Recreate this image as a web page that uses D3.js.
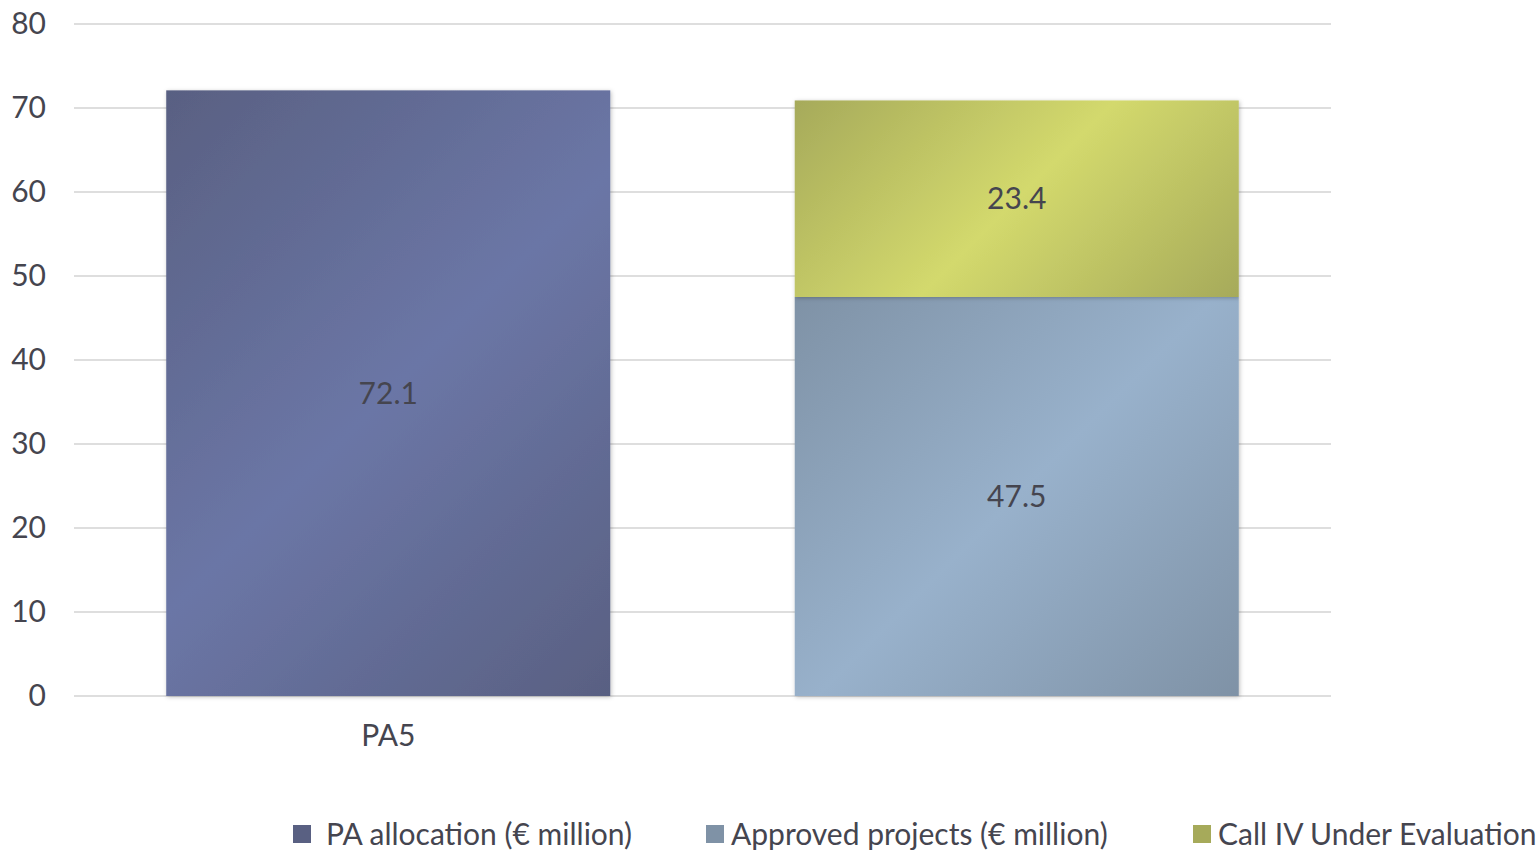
<!DOCTYPE html>
<html>
<head>
<meta charset="utf-8">
<script src="https://cdn.jsdelivr.net/npm/d3@7"></script>
<style>
  body { margin: 0; background: #fff; }
  svg text { font-family: Lato, "Open Sans", sans-serif; fill: #45454f; }
</style>
</head>
<body>
<div id="chart"></div>
<script>
// Data
const categories = ["PA5", ""];
const seriesNames = ["PA allocation (€ million)", "Approved projects (€ million)", "Call IV Under Evaluation"];
const paAllocation = [72.1, 0];
const approved = [0, 47.5];
const callIV = [0, 23.4];
const yTicks = [0, 10, 20, 30, 40, 50, 60, 70, 80];

const W = 1539, H = 851;
const margin = { top: 24, right: 208, bottom: 155, left: 74 };

const colors = [
    ["#596082", "#6b76a6"],
    ["#7f92a6", "#98b1cb"],
    ["#a6aa5a", "#d3d96d"]
];
const fmt = d3.format(".1f");

const svg = d3.select("#chart")
    .append("svg")
    .attr("width", W)
    .attr("height", H);

const defs = svg.append("defs");

// 45 degree gradient in pixel space, dark at the corners, light through the middle
function addGradient(id, c, x0, y0, w, h) {
    const cx = x0 + w / 2, cy = y0 + h / 2, d = (w + h) / 4;
    const g = defs.append("linearGradient")
        .attr("id", id)
        .attr("gradientUnits", "userSpaceOnUse")
        .attr("x1", cx - d).attr("y1", cy - d)
        .attr("x2", cx + d).attr("y2", cy + d);
    g.append("stop").attr("offset", "0%").attr("stop-color", c[0]);
    g.append("stop").attr("offset", "50%").attr("stop-color", c[1]);
    g.append("stop").attr("offset", "100%").attr("stop-color", c[0]);
    return `url(#${id})`;
}

const shadow = defs.append("filter").attr("id", "shadow")
    .attr("x", "-5%").attr("y", "-5%").attr("width", "110%").attr("height", "110%");
shadow.append("feDropShadow")
    .attr("dx", 1).attr("dy", 1).attr("stdDeviation", 2)
    .attr("flood-color", "#000").attr("flood-opacity", 0.25);

const x = d3.scaleBand()
    .domain(d3.range(categories.length))
    .range([margin.left, W - margin.right])
    .paddingInner(0.2935)
    .paddingOuter(0.2935 / 2);

const y = d3.scaleLinear()
    .domain([0, 80])
    .range([H - margin.bottom, margin.top]);

// Gridlines
svg.append("g")
    .selectAll("line")
    .data(yTicks)
    .enter()
    .append("line")
    .attr("x1", margin.left)
    .attr("x2", W - margin.right)
    .attr("y1", d => y(d))
    .attr("y2", d => y(d))
    .attr("stroke", "#dedede")
    .attr("stroke-width", 2);

// Y axis labels
svg.append("g")
    .attr("transform", `translate(46,0)`)
    .call(d3.axisLeft(y).tickValues(yTicks).tickSize(0).tickPadding(0))
    .call(g => g.select(".domain").remove())
    .selectAll("text")
    .style("font-size", "30px")
    .style("font-family", "Lato, sans-serif")
    .attr("fill", "#45454f");

// Stack
const rows = categories.map((c, i) => ({ i, s0: paAllocation[i], s1: approved[i], s2: callIV[i] }));
const stack = d3.stack().keys(["s0", "s1", "s2"])(rows);

const layers = svg.append("g")
    .selectAll("g")
    .data(stack)
    .enter()
    .append("g");

layers.selectAll("rect")
    .data((d, k) => d.filter(p => p[1] - p[0] > 0).map(p => ({ p, k })))
    .enter()
    .append("rect")
    .attr("x", d => x(d.p.data.i))
    .attr("width", x.bandwidth())
    .attr("y", d => y(d.p[1]))
    .attr("height", d => y(d.p[0]) - y(d.p[1]))
    .attr("fill", d => addGradient(`g${d.k}_${d.p.data.i}`, colors[d.k],
        x(d.p.data.i), y(d.p[1]), x.bandwidth(), y(d.p[0]) - y(d.p[1])))
    .attr("filter", "url(#shadow)");

// Value labels
layers.selectAll("text")
    .data(d => d.filter(p => p[1] - p[0] > 0))
    .enter()
    .append("text")
    .attr("x", d => x(d.data.i) + x.bandwidth() / 2)
    .attr("y", d => y((d[0] + d[1]) / 2))
    .attr("dy", "0.35em")
    .attr("text-anchor", "middle")
    .style("font-size", "30px")
    .text(d => fmt(d[1] - d[0]));

// Category axis labels
svg.append("g")
    .selectAll("text")
    .data(categories)
    .enter()
    .append("text")
    .attr("x", (d, i) => x(i) + x.bandwidth() / 2)
    .attr("y", 746)
    .attr("text-anchor", "middle")
    .style("font-size", "30px")
    .text(d => d);

// Legend
const legendX = [293, 706, 1193];
const legend = svg.append("g")
    .selectAll("g")
    .data(seriesNames)
    .enter()
    .append("g")
    .attr("transform", (d, i) => `translate(${legendX[i]},825)`);

legend.append("rect")
    .attr("width", 18)
    .attr("height", 18)
    .attr("fill", (d, i) => addGradient("lg" + i, colors[i], legendX[i], 825, 18, 18));

legend.append("text")
    .attr("x", (d, i) => i === 0 ? 33 : 25)
    .attr("y", 9)
    .attr("dy", "0.35em")
    .style("font-size", "30px")
    .text(d => d);
</script>
</body>
</html>
